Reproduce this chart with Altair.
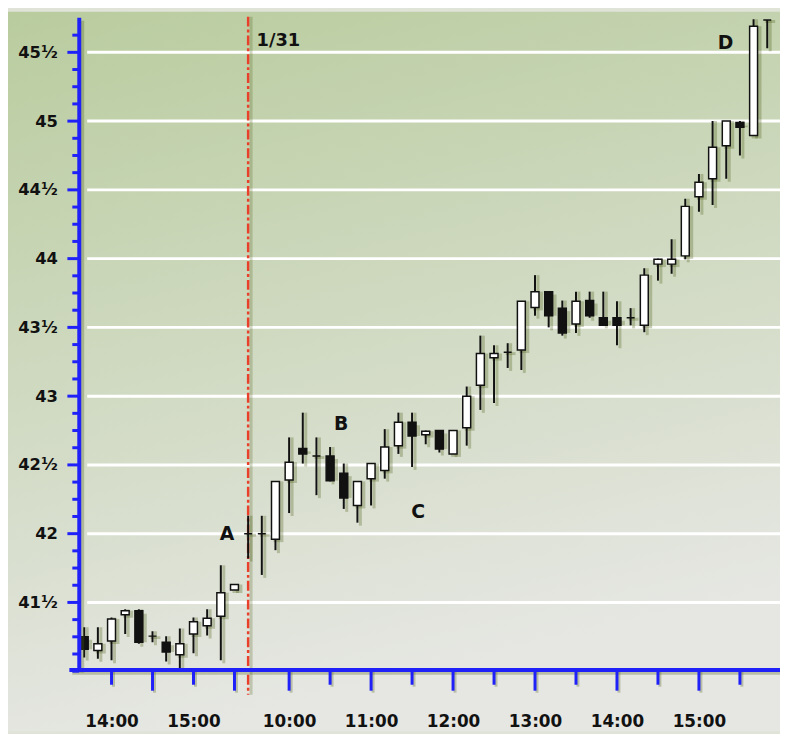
import altair as alt
import pandas as pd

# ---- candle data (10-minute bars, 1/30 afternoon then 1/31) ----
times = ["13:40", "13:50", "14:00", "14:10", "14:20", "14:30", "14:40", "14:50",
         "15:00", "15:10", "15:20", "15:30",
         "9:30", "9:40", "9:50", "10:00", "10:10", "10:20", "10:30", "10:40", "10:50",
         "11:00", "11:10", "11:20", "11:30", "11:40", "11:50", "12:00", "12:10", "12:20",
         "12:30", "12:40", "12:50", "13:00", "13:10", "13:20", "13:30", "13:40", "13:50",
         "14:00", "14:10", "14:20", "14:30", "14:40", "14:50", "15:00", "15:10", "15:20",
         "15:30", "15:40", "15:50"]
opens = [41.25, 41.15, 41.22, 41.41, 41.44, 41.255, 41.21, 41.12, 41.27, 41.33, 41.40, 41.59,
         42.00, 42.00, 41.96, 42.39, 42.62, 42.565, 42.565, 42.44, 42.205, 42.40, 42.46, 42.64,
         42.81, 42.72, 42.75, 42.58, 42.77, 43.08, 43.28, 43.32, 43.335, 43.645, 43.76, 43.64,
         43.525, 43.695, 43.57, 43.57, 43.57, 43.515, 43.96, 43.96, 44.02, 44.45, 44.58, 44.82,
         44.99, 44.895, 45.735]
highs = [41.32, 41.32, 41.39, 41.45, 41.45, 41.29, 41.255, 41.31, 41.39, 41.45, 41.77, 41.63,
         42.13, 42.13, 42.38, 42.70, 42.88, 42.70, 42.63, 42.51, 42.38, 42.51, 42.76, 42.88,
         42.88, 42.75, 42.75, 42.75, 43.07, 43.44, 43.37, 43.385, 43.69, 43.88, 43.76, 43.695,
         43.76, 43.76, 43.76, 43.69, 43.64, 43.93, 44.00, 44.14, 44.435, 44.615, 45.00, 45.00,
         45.00, 45.74, 45.735]
lows = [41.10, 41.09, 41.08, 41.27, 41.20, 41.21, 41.07, 41.02, 41.13, 41.26, 41.08, 41.59,
        41.82, 41.70, 41.88, 42.15, 42.51, 42.28, 42.38, 42.18, 42.08, 42.205, 42.40, 42.58,
        42.485, 42.65, 42.59, 42.58, 42.64, 42.90, 42.95, 43.205, 43.19, 43.585, 43.50, 43.44,
        43.46, 43.57, 43.515, 43.37, 43.515, 43.465, 43.84, 43.89, 43.995, 44.34, 44.39, 44.58,
        44.75, 44.895, 45.53]
closes = [41.16, 41.20, 41.38, 41.44, 41.21, 41.255, 41.14, 41.20, 41.36, 41.385, 41.57, 41.63,
          42.00, 42.00, 42.38, 42.52, 42.58, 42.565, 42.385, 42.26, 42.38, 42.51, 42.63, 42.81,
          42.71, 42.745, 42.615, 42.75, 43.00, 43.31, 43.31, 43.32, 43.69, 43.76, 43.585, 43.46,
          43.69, 43.585, 43.515, 43.515, 43.57, 43.88, 43.995, 43.995, 44.38, 44.555, 44.81, 45.00,
          44.955, 45.69, 45.735]

day_break = [12]                      # bar index where 1/31 starts
x_tick_pos = [2, 5, 8, 11, 15, 18, 21, 24, 27, 30, 33, 36, 39, 42, 45, 48]
x_tick_long = [5, 11, 15, 21, 27, 33, 39, 45]
x_label_pos = [2, 8, 15, 21, 27, 33, 39, 45]
x_label_text = ["14:00", "15:00", "10:00", "11:00", "12:00", "13:00", "14:00", "15:00"]
y_label_vals = [41.5, 42.0, 42.5, 43.0, 43.5, 44.0, 44.5, 45.0, 45.5]

ann_text = ["A", "B", "C", "D"]
ann_idx = [10.45, 18.8, 24.45, 46.95]
ann_val = [42.0, 42.8, 42.16, 45.565]
date_text = ["1/31"]
date_idx = [12.62]
date_val = [45.585]

# ---- frames ----
df = pd.DataFrame({"idx": list(range(len(times))), "time": times, "open": opens,
                   "high": highs, "low": lows, "close": closes})
df["dir"] = ["up" if c >= o else "down" for o, c in zip(opens, closes)]

eighths = [41.0 + k / 8 for k in range(0, 38)]
minor_y = pd.DataFrame({"v": [v for v in eighths if v not in y_label_vals]})
major_y = pd.DataFrame({"v": y_label_vals})
short_x = pd.DataFrame({"t": [p for p in x_tick_pos if p not in x_tick_long]})
long_x = pd.DataFrame({"t": x_tick_long})
brk = pd.DataFrame({"t": day_break})
ann = pd.DataFrame({"t": ann_idx, "v": ann_val, "txt": ann_text})
dte = pd.DataFrame({"t": date_idx, "v": date_val, "txt": date_text})
one = pd.DataFrame({"k": [0]})

W, H = 708, 660
BLUE = "#2020f8"
SHADOW = "#4f611c"
FONT = "DejaVu Sans"
INK = "#111111"

xscale = alt.Scale(domain=[0, W / 14.0], nice=False, zero=False)
yscale = alt.Scale(domain=[40.995, 45.745], nice=False, zero=False)

lab_expr = " : ".join(f"datum.value == {p} ? '{t}'" for p, t in zip(x_label_pos, x_label_text)) + " : ''"
xaxis = alt.Axis(values=x_label_pos, labelExpr=lab_expr, title=None, ticks=False, domain=False,
                 grid=False, labelPadding=42, labelFont=FONT, labelFontSize=17,
                 labelFontWeight="bold", labelColor=INK, labelFlush=False, labelOverlap=False,
                 zindex=1)
yaxis = alt.Axis(values=y_label_vals,
                 labelExpr="floor(datum.value) + (datum.value % 1 > 0 ? '\u00b9\u2044\u2082' : '')",
                 title=None, ticks=False, domain=False, grid=False, labelPadding=22,
                 labelFont=FONT, labelFontSize=16.5, labelFontWeight="bold", labelColor=INK,
                 labelFlush=False, labelOverlap=False, labelBaseline="middle", zindex=1)


def X(f):
    return alt.X(f"{f}:Q", scale=xscale, axis=xaxis)


def Y(f):
    return alt.Y(f"{f}:Q", scale=yscale, axis=yaxis)


grad = alt.LinearGradient(
    gradient="linear", x1=0, y1=0, x2=0.25, y2=1,
    stops=[alt.GradientStop(color="#b9cc9e", offset=0),
           alt.GradientStop(color="#cdd8bd", offset=0.45),
           alt.GradientStop(color="#e6e7e3", offset=1)])

bg = alt.Chart(one).mark_rect(fill=grad, clip=False).encode(
    x=alt.value(-72), x2=alt.value(W), y=alt.value(-7), y2=alt.value(H + 60))

grid = alt.Chart(major_y).mark_rule(color="white", strokeWidth=3).encode(
    y=Y("v"), x=alt.value(8), x2=alt.value(W))

redline_sh = alt.Chart(brk).mark_rule(color=SHADOW, strokeWidth=3, opacity=0.25, xOffset=3,
                                      clip=False).encode(
    x=X("t"), y=alt.value(-2), y2=alt.value(H + 23))
redline = alt.Chart(brk).mark_rule(color="#e8402a", strokeWidth=2.5, strokeDash=[10, 3, 3, 3],
                                   clip=False).encode(
    x=X("t"), y=alt.value(-2), y2=alt.value(H + 23))

base = alt.Chart(df)
wick_sh = base.mark_rule(color=SHADOW, strokeWidth=3, opacity=0.3, xOffset=3, yOffset=3,
                         clip=True).encode(x=X("idx"), y=Y("low"), y2="high:Q")
body_sh = base.mark_bar(size=10, color=SHADOW, opacity=0.3, xOffset=3, yOffset=3,
                        clip=True).encode(x=X("idx"), y=Y("open"), y2="close:Q")
wick = base.mark_rule(color=INK, strokeWidth=2, clip=True).encode(
    x=X("idx"), y=Y("low"), y2="high:Q")
body = base.mark_bar(size=8, stroke=INK, strokeWidth=1.5, clip=True).encode(
    x=X("idx"), y=Y("open"), y2="close:Q",
    fill=alt.Fill("dir:N", scale=alt.Scale(domain=["up", "down"], range=["white", INK]),
                  legend=None))

ann_l = alt.Chart(ann).mark_text(font=FONT, fontSize=19, fontWeight="bold", color=INK,
                                 align="center", baseline="middle").encode(
    x=X("t"), y=Y("v"), text="txt:N")
date_l = alt.Chart(dte).mark_text(font=FONT, fontSize=18, fontWeight="bold", color=INK,
                                  align="left", baseline="middle", clip=False).encode(
    x=X("t"), y=Y("v"), text="txt:N")

# axes drawn as blue rules with a soft shadow
yaxis_sh = alt.Chart(one).mark_rule(color=SHADOW, strokeWidth=4, opacity=0.3, clip=False).encode(
    x=alt.value(3), y=alt.value(2), y2=alt.value(H + 1))
xaxis_sh = alt.Chart(one).mark_rule(color=SHADOW, strokeWidth=4, opacity=0.3, clip=False).encode(
    x=alt.value(-7), x2=alt.value(W), y=alt.value(H + 1))
yline = alt.Chart(one).mark_rule(color=BLUE, strokeWidth=4, clip=False).encode(
    x=alt.value(0), y=alt.value(-1), y2=alt.value(H))
xline = alt.Chart(one).mark_rule(color=BLUE, strokeWidth=4, clip=False).encode(
    x=alt.value(-10), x2=alt.value(W), y=alt.value(H - 2))

ytick_min = alt.Chart(minor_y).mark_rule(color=BLUE, strokeWidth=3, clip=False).encode(
    y=Y("v"), x=alt.value(-7), x2=alt.value(0))
ytick_maj = alt.Chart(major_y).mark_rule(color=BLUE, strokeWidth=3, clip=False).encode(
    y=Y("v"), x=alt.value(-12), x2=alt.value(0))
xtick_sh = alt.Chart(short_x).mark_rule(color=BLUE, strokeWidth=3, clip=False).encode(
    x=X("t"), y=alt.value(H - 2), y2=alt.value(H + 13))
xtick_lg = alt.Chart(long_x).mark_rule(color=BLUE, strokeWidth=3, clip=False).encode(
    x=X("t"), y=alt.value(H - 2), y2=alt.value(H + 19))
xtick_sh_s = alt.Chart(short_x).mark_rule(color=SHADOW, strokeWidth=3, opacity=0.3,
                                          xOffset=2, clip=False).encode(
    x=X("t"), y=alt.value(H), y2=alt.value(H + 15))
xtick_lg_s = alt.Chart(long_x).mark_rule(color=SHADOW, strokeWidth=3, opacity=0.3,
                                         xOffset=2, clip=False).encode(
    x=X("t"), y=alt.value(H), y2=alt.value(H + 21))

chart = alt.layer(
    bg, grid, redline_sh, redline, wick_sh, body_sh, wick, body, ann_l, date_l,
    yaxis_sh, xaxis_sh, xtick_sh_s, xtick_lg_s, yline, xline,
    ytick_min, ytick_maj, xtick_sh, xtick_lg
).properties(
    width=W, height=H,
    autosize=alt.AutoSizeParams(type="none"),
    padding={"left": 72, "top": 7, "right": 0, "bottom": 59},
    background="#dfe3d8",
).configure_view(stroke=None)

chart.save("out.html", embed_options={"renderer": "svg", "actions": False})
